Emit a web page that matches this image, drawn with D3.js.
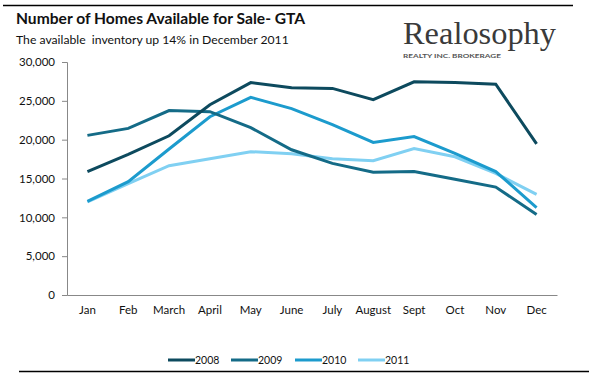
<!DOCTYPE html>
<html>
<head>
<meta charset="utf-8">
<script src="https://cdn.jsdelivr.net/npm/d3@7"></script>
<style>
  body { margin: 0; background: #fff; }
  text { font-family: Lato, "Open Sans", sans-serif; }
</style>
</head>
<body>
<div id="chart"></div>
<script>
// dane
var months = ["Jan", "Feb", "March", "April", "May", "June", "July", "August", "Sept", "Oct", "Nov", "Dec"];
var years = ["2008", "2009", "2010", "2011"];
var values2008 = [15900, 18100, 20500, 24500, 27350, 26700, 26600, 25150, 27450, 27350, 27150, 19450];
var values2009 = [20550, 21450, 23750, 23600, 21550, 18700, 16950, 15800, 15900, 14900, 13900, 10350];
var values2010 = [12050, 14600, 18800, 22950, 25450, 24000, 21950, 19650, 20400, 18250, 15900, 11250];
var values2011 = [12000, 14350, 16650, 17550, 18450, 18200, 17550, 17300, 18850, 17800, 15650, 12950];
var yTicks = [0, 5000, 10000, 15000, 20000, 25000, 30000];
var colors = ["#0d4a5e", "#146b87", "#1c9bcd", "#80d0f2"];

var width = 596, height = 377;
var margin = { left: 67, right: 39, top: 62, bottom: 82 };

var svg = d3.select("#chart")
  .append("svg")
  .attr("width", width)
  .attr("height", height);

// linie ramki
svg.append("line").attr("x1", 3).attr("x2", 573).attr("y1", 5.5).attr("y2", 5.5)
  .style("stroke", "#000").style("stroke-width", 1.5);
svg.append("line").attr("x1", 19).attr("x2", 589).attr("y1", 371.5).attr("y2", 371.5)
  .style("stroke", "#000").style("stroke-width", 1.5);

// tytuł
svg.append("text").attr("x", 16).attr("y", 24)
  .style("font-size", "15.6px").style("font-weight", "bold").style("fill", "#111")
  .text("Number of Homes Available for Sale- GTA");
svg.append("text").attr("x", 16).attr("y", 44)
  .style("font-size", "12.2px").style("fill", "#111")
  .style("white-space", "pre")
  .text("The available  inventory up 14% in December 2011");

// logo
svg.append("text").attr("x", 403).attr("y", 44)
  .attr("textLength", 153).attr("lengthAdjust", "spacingAndGlyphs")
  .style("font-family", "'Liberation Serif', 'DejaVu Serif', serif")
  .style("font-size", "31px").style("fill", "#3a3a3a")
  .text("Realosophy");
svg.append("text").attr("x", 403).attr("y", 58)
  .attr("textLength", 98).attr("lengthAdjust", "spacingAndGlyphs")
  .style("font-size", "5.5px").style("font-weight", "bold").style("fill", "#555")
  .text("REALTY INC. BROKERAGE");

var x = d3.scaleBand()
  .domain(months)
  .range([margin.left, width - margin.right]);

var y = d3.scaleLinear()
  .domain([0, 30000])
  .range([height - margin.bottom, margin.top]);

// oś Y
var yAxis = svg.append("g")
  .attr("transform", "translate(" + margin.left + ",0)")
  .call(d3.axisLeft(y).tickValues(yTicks).tickSize(5).tickPadding(7).tickFormat(d3.format(",")));
yAxis.selectAll("path, line").style("stroke", "#888");
yAxis.selectAll("text").style("font-size", "11.5px").style("fill", "#111")
  .style("font-family", "Lato, sans-serif");

// oś X
var xAxis = svg.append("g")
  .attr("transform", "translate(0," + (height - margin.bottom) + ")")
  .call(d3.axisBottom(x).tickSize(0).tickPadding(11));
xAxis.select("path").style("stroke", "#888");
xAxis.selectAll("text").style("font-size", "11.5px").style("fill", "#111")
  .style("font-family", "Lato, sans-serif");

var series = [values2008, values2009, values2010, values2011];

var line = d3.line()
  .x(function (d, i) { return x(months[i]) + x.bandwidth() / 2; })
  .y(function (d) { return y(d); });

// rysuj od najjaśniejszej, żeby ciemniejsze były na wierzchu
series.slice().reverse().forEach(function (s, k) {
  var idx = series.length - 1 - k;
  svg.append("path")
    .datum(s)
    .attr("d", line)
    .style("fill", "none")
    .style("stroke", colors[idx])
    .style("stroke-width", 3);
});

// legenda
var legendX = [168, 231, 295, 358];
years.forEach(function (yr, i) {
  var g = svg.append("g").attr("transform", "translate(" + legendX[i] + ",360)");
  g.append("line").attr("x1", 0).attr("x2", 27).attr("y1", 0).attr("y2", 0)
    .style("stroke", colors[i]).style("stroke-width", 3);
  g.append("text").attr("x", 27).attr("y", 3.5)
    .style("font-size", "10.5px").style("fill", "#111")
    .text(yr);
});
</script>
</body>
</html>
